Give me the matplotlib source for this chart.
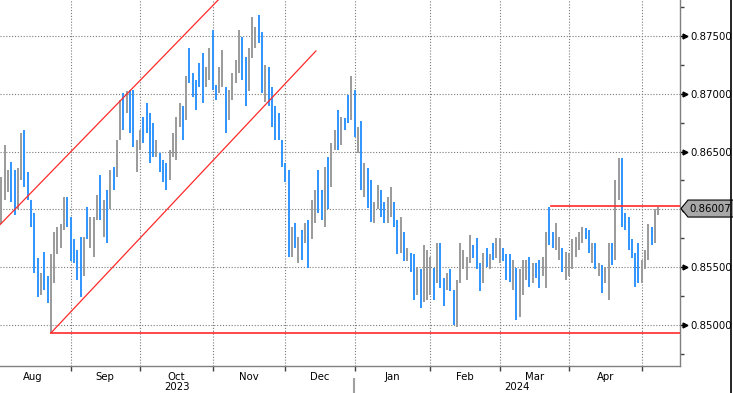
import numpy as np
import pandas as pd
import matplotlib
matplotlib.use('Agg')
import matplotlib.pyplot as plt
from matplotlib.lines import Line2D
from matplotlib.patches import Polygon
from matplotlib.ticker import FixedLocator, FuncFormatter

''' EURGBP daily bars with trend channel, support and resistance '''

## business-day calendar, first bar is 3 Aug 2023 (index 2)
calendar_start = '2023-08-01'
calendar_end = '2024-05-31'
first_bar = 2

## daily highs / lows, one row per month (Aug 2023 .. May 2024)
highs = [
    0.8628, 0.8656, 0.8634, 0.8641, 0.8634, 0.8636, 0.8666, 0.8669, 0.8632, 0.8608, 0.8597,
    0.8558, 0.8545, 0.8563, 0.8542, 0.8561, 0.8580, 0.8585, 0.8587, 0.8611, 0.8611,
    0.8593, 0.8574, 0.8565, 0.8576, 0.8576, 0.8602, 0.8593, 0.8593, 0.8612, 0.8630, 0.8608,
    0.8617, 0.8634, 0.8637, 0.8660, 0.8695, 0.8701, 0.8702, 0.8703, 0.8703, 0.8660,
    0.8669, 0.8680, 0.8692, 0.8683, 0.8675, 0.8660, 0.8649, 0.8643, 0.8640, 0.8651, 0.8666,
    0.8680, 0.8692, 0.8689, 0.8715, 0.8740, 0.8718, 0.8712, 0.8727, 0.8735, 0.8723, 0.8740,
    0.8755, 0.8708, 0.8723, 0.8738, 0.8706, 0.8703, 0.8718, 0.8729, 0.8755, 0.8749, 0.8732,
    0.8740, 0.8766, 0.8758, 0.8768, 0.8753, 0.8725, 0.8723, 0.8706, 0.8689, 0.8683, 0.8660,
    0.8640, 0.8634, 0.8585, 0.8588, 0.8576, 0.8582, 0.8588, 0.8591, 0.8608, 0.8617, 0.8634,
    0.8617, 0.8637, 0.8645, 0.8657, 0.8669, 0.8686, 0.8680, 0.8679, 0.8699, 0.8715,
    0.8703, 0.8671, 0.8676, 0.8640, 0.8636, 0.8625, 0.8606, 0.8621, 0.8617, 0.8606, 0.8611,
    0.8619, 0.8606, 0.8591, 0.8593, 0.8580, 0.8567, 0.8562, 0.8561, 0.8550, 0.8548, 0.8569, 0.8565,
    0.8559, 0.8549, 0.8571, 0.8571, 0.8541, 0.8545, 0.8548, 0.8530, 0.8539, 0.8571, 0.8565,
    0.8559, 0.8578, 0.8569, 0.8575, 0.8554, 0.8562, 0.8567, 0.8561, 0.8571, 0.8575,
    0.8575, 0.8567, 0.8561, 0.8561, 0.8556, 0.8549, 0.8548, 0.8556, 0.8556, 0.8559, 0.8554,
    0.8554, 0.8556, 0.8559, 0.8580, 0.8602, 0.8580, 0.8588, 0.8576, 0.8567, 0.8563,
    0.8562, 0.8574, 0.8576, 0.8580, 0.8585, 0.8584, 0.8582, 0.8571, 0.8571, 0.8554, 0.8552,
    0.8550, 0.8571, 0.8571, 0.8625, 0.8644, 0.8644, 0.8597, 0.8593, 0.8574, 0.8562, 0.8571,
    0.8556, 0.8565, 0.8587, 0.8585, 0.8600, 0.8602,
]
lows = [
    0.8587, 0.8608, 0.8615, 0.8606, 0.8595, 0.8600, 0.8625, 0.8619, 0.8608, 0.8585, 0.8545,
    0.8524, 0.8526, 0.8530, 0.8519, 0.8493, 0.8536, 0.8561, 0.8567, 0.8582, 0.8585,
    0.8555, 0.8554, 0.8539, 0.8524, 0.8542, 0.8574, 0.8567, 0.8559, 0.8591, 0.8591, 0.8576,
    0.8571, 0.8600, 0.8617, 0.8628, 0.8660, 0.8669, 0.8683, 0.8666, 0.8654, 0.8632,
    0.8651, 0.8657, 0.8666, 0.8640, 0.8645, 0.8645, 0.8632, 0.8624, 0.8617, 0.8625, 0.8645,
    0.8643, 0.8671, 0.8660, 0.8677, 0.8709, 0.8697, 0.8686, 0.8706, 0.8692, 0.8706, 0.8712,
    0.8703, 0.8695, 0.8701, 0.8706, 0.8666, 0.8677, 0.8695, 0.8709, 0.8718, 0.8712, 0.8689,
    0.8702, 0.8731, 0.8740, 0.8744, 0.8701, 0.8693, 0.8689, 0.8671, 0.8660, 0.8660, 0.8637,
    0.8624, 0.8559, 0.8559, 0.8567, 0.8554, 0.8556, 0.8571, 0.8549, 0.8574, 0.8588, 0.8597,
    0.8591, 0.8585, 0.8600, 0.8619, 0.8651, 0.8651, 0.8656, 0.8669, 0.8675, 0.8677,
    0.8663, 0.8649, 0.8617, 0.8611, 0.8601, 0.8589, 0.8588, 0.8600, 0.8593, 0.8588, 0.8588,
    0.8593, 0.8585, 0.8561, 0.8562, 0.8555, 0.8555, 0.8546, 0.8522, 0.8526, 0.8515, 0.8520, 0.8522,
    0.8526, 0.8522, 0.8536, 0.8532, 0.8516, 0.8530, 0.8529, 0.8500, 0.8498, 0.8536, 0.8548,
    0.8539, 0.8554, 0.8558, 0.8548, 0.8529, 0.8536, 0.8550, 0.8548, 0.8556, 0.8558,
    0.8554, 0.8555, 0.8539, 0.8537, 0.8530, 0.8504, 0.8507, 0.8526, 0.8539, 0.8533, 0.8536,
    0.8541, 0.8532, 0.8542, 0.8532, 0.8569, 0.8567, 0.8565, 0.8556, 0.8546, 0.8539,
    0.8542, 0.8548, 0.8559, 0.8565, 0.8571, 0.8574, 0.8562, 0.8554, 0.8548, 0.8542, 0.8528,
    0.8536, 0.8522, 0.8552, 0.8556, 0.8608, 0.8585, 0.8582, 0.8565, 0.8558, 0.8533, 0.8536,
    0.8536, 0.8548, 0.8556, 0.8569, 0.8571, 0.8595,
]
# 1 = close above open (grey bar), 0 = down day (blue bar)
up = [
    1, 1, 1, 0, 0, 1, 1, 0, 0, 0, 0, 0, 1, 0, 0, 1, 1, 1, 1, 1, 0,
    0, 0, 0, 0, 1, 0, 1, 1, 1, 0, 1, 0, 1, 0, 1, 1, 0, 1, 0, 0, 1,
    1, 0, 0, 0, 0, 1, 0, 0, 0, 1, 1, 1, 1, 0, 1, 0, 0, 0, 0, 0, 1, 1,
    0, 0, 1, 1, 0, 1, 1, 1, 1, 0, 0, 1, 1, 1, 0, 0, 1, 0, 0, 0, 0, 0,
    0, 0, 1, 0, 1, 0, 1, 0, 1, 1, 0, 0, 1, 0, 1, 1, 0, 1, 0, 0, 1,
    0, 1, 0, 1, 0, 0, 1, 1, 0, 0, 1, 1, 0, 0, 1, 0, 1, 0, 0, 1, 0, 1, 1,
    1, 0, 1, 0, 0, 1, 0, 0, 1, 1, 1, 1, 1, 0, 0, 0, 1, 0, 1, 0, 1,
    1, 0, 0, 0, 1, 0, 1, 1, 1, 0, 1, 0, 0, 1, 1, 0, 0, 1, 1, 0, 1,
    1, 1, 1, 1, 1, 0, 0, 1, 0, 1, 0, 1, 1, 0, 1, 1, 0, 0, 0, 0, 0, 0,
    1, 1, 1, 0, 1, 1,
]
last_close = 0.86007

## drawn trend lines: (bar index, price)
upper_channel = ([1, 68], [0.8585, 0.8782])
lower_channel = ([17, 97.3], [0.8493, 0.8737])
support_level, support_from = 0.8493, 17
resistance_level, resistance_from = 0.8603, 168.5

y_major = [0.850, 0.855, 0.860, 0.865, 0.870, 0.875]
y_minor = [0.8475, 0.8525, 0.8575, 0.8625, 0.8675, 0.8725, 0.8775]

BLUE = '#2f95ff'
GREY = '#9a9a9a'
RED = '#ff2a2a'
GRID = '#7a7a7a'

plt.rcParams['font.family'] = ['DejaVu Sans']

days = pd.bdate_range(calendar_start, calendar_end)
x = np.arange(first_bar, first_bar + len(highs))
month_id = days.year * 12 + days.month
month_starts = np.flatnonzero(np.diff(month_id)) + 1
bounds = np.concatenate([[0], month_starts])
month_mid = (bounds[:-1] + bounds[1:]) / 2.0
month_names = [days[b].strftime('%b') for b in bounds[:-1]]
jan_idx = int(np.flatnonzero((days.year == 2024))[0])

fig = plt.figure(figsize=(7.33, 3.93), dpi=100)
ax = fig.add_axes([0, 27 / 393, 680 / 733, 366 / 393])
xlim = (1.6, 207.6)
ax.set_xlim(*xlim)
ax.set_ylim(0.84645, 0.87811)

cols = np.where(np.array(up) == 1, GREY, BLUE)
ax.vlines(x, lows, highs, colors=cols, linewidth=1.4, zorder=2)

# trend channel and levels
ax.plot(*upper_channel, color=RED, lw=0.9, zorder=3)
ax.plot(*lower_channel, color=RED, lw=0.9, zorder=3)
ax.plot([support_from, xlim[1]], [support_level] * 2, color=RED, lw=1.2, zorder=3)
ax.plot([resistance_from, xlim[1]], [resistance_level] * 2, color=RED, lw=1.2, zorder=3)

# grid
ax.xaxis.set_major_locator(FixedLocator(month_starts))
ax.xaxis.set_minor_locator(FixedLocator(month_mid[month_mid < xlim[1]]))
ax.xaxis.set_major_formatter(FuncFormatter(lambda v, p: ''))
ax.xaxis.set_minor_formatter(FuncFormatter(
    lambda v, p: month_names[int(np.argmin(np.abs(month_mid - v)))]))
ax.set_yticks(y_major)
ax.yaxis.set_minor_locator(FixedLocator(y_minor))
ax.yaxis.set_major_formatter(FuncFormatter(
    lambda v, p: '' if abs(v - 0.86) < 1e-9 else '%.5f' % v))
ax.grid(True, which='major', color=GRID, lw=0.8, linestyle=(0, (1, 1.6)), zorder=1)

ax.yaxis.tick_right()
ax.tick_params(axis='y', which='major', length=3, width=1, color='black',
               pad=4.5, labelsize=7.3, labelcolor='black')
ax.tick_params(axis='y', which='minor', length=3, width=1, color='#404040')
ax.tick_params(axis='x', which='major', length=3.5, width=1, color='#404040')
ax.tick_params(axis='x', which='minor', length=0, pad=4, labelsize=7.3)

for s in ['top', 'left']:
    ax.spines[s].set_visible(False)
for s in ['bottom', 'right']:
    ax.spines[s].set_color('#808080')
    ax.spines[s].set_linewidth(1)

# arrow heads on the price ticks
ytrans = ax.get_yaxis_transform()
ax.plot(np.full(len(y_major), 1 + 5 / 680), y_major, ls='', marker='>', ms=3.5,
        color='black', transform=ytrans, clip_on=False)

# year labels and separator
xtrans = ax.get_xaxis_transform()
ax.text((xlim[0] + jan_idx) / 2, -0.058, '2023', transform=xtrans,
        ha='center', va='center', fontsize=7.3)
ax.text((jan_idx + xlim[1]) / 2, -0.058, '2024', transform=xtrans,
        ha='center', va='center', fontsize=7.3)
ax.add_artist(Line2D([jan_idx - 0.3] * 2, [-0.036, -0.08], color='#a0a0a0', lw=1.5,
                     transform=xtrans, clip_on=False))

# last price tag
h = 8.5 / 11560
tag = Polygon([(1 + 1 / 680, last_close), (1 + 8 / 680, last_close + h),
               (1 + 60 / 680, last_close + h), (1 + 60 / 680, last_close - h),
               (1 + 8 / 680, last_close - h)], closed=True, transform=ytrans,
              facecolor='#a8a8a8', edgecolor='black', lw=0.8, clip_on=False, zorder=5)
ax.add_patch(tag)
ax.text(1 + 9.5 / 680, last_close, '%.5f' % last_close, transform=ytrans,
        ha='left', va='center', fontsize=7.3, zorder=6, clip_on=False)

fig.add_artist(Line2D([731 / 733] * 2, [0, 1], color='black', lw=1.2,
                      transform=fig.transFigure))

fig.savefig('out.png', dpi=100)
